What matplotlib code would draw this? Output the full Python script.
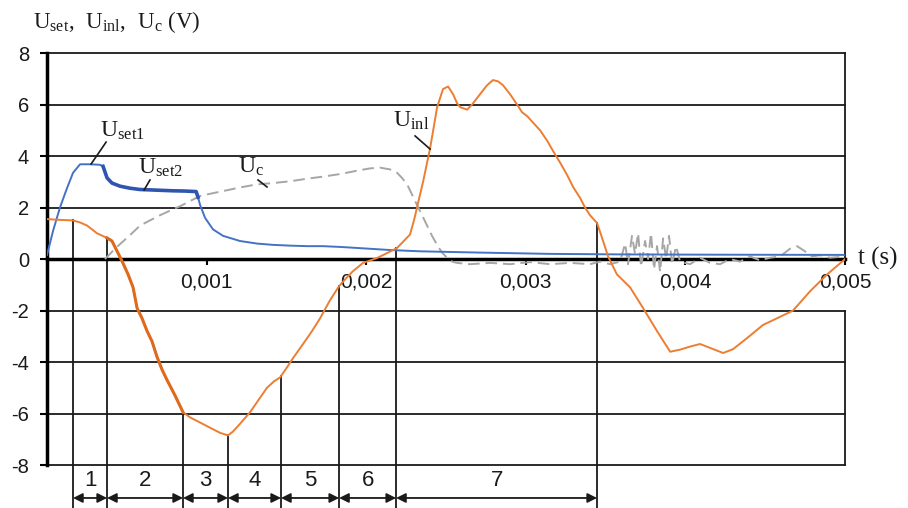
import matplotlib.pyplot as plt
import numpy as np

plt.rcParams['mathtext.fontset'] = 'custom'
plt.rcParams['mathtext.rm'] = 'Liberation Serif'
plt.rcParams['font.family'] = 'Liberation Sans'
plt.rcParams['axes.unicode_minus'] = False

# time values in ms, voltages in V
t_set = [0.000, 0.038, 0.081, 0.125, 0.163, 0.207, 0.269, 0.332, 0.351, 0.376,
         0.407, 0.457, 0.520, 0.583, 0.708, 0.789, 0.865, 0.934, 0.946, 0.959,
         0.990, 1.040, 1.103, 1.209, 1.316, 1.416, 1.523, 1.629, 1.729, 1.836,
         1.942, 2.149, 2.337, 2.713, 3.152, 3.590, 4.091, 5.000]
u_set = [0.16, 1.1, 2.0, 2.75, 3.35, 3.68, 3.68, 3.66, 3.6, 3.15,
         2.95, 2.83, 2.75, 2.7, 2.67, 2.65, 2.64, 2.62, 2.4, 2.1,
         1.6, 1.15, 0.9, 0.7, 0.6, 0.55, 0.52, 0.5, 0.5, 0.47,
         0.43, 0.35, 0.3, 0.25, 0.2, 0.18, 0.17, 0.16]

t_inl = [0.000, 0.081, 0.163, 0.207, 0.251, 0.313, 0.376, 0.407, 0.439, 0.470,
         0.508, 0.539, 0.564, 0.595, 0.627, 0.658, 0.689, 0.721, 0.752, 0.802,
         0.852, 0.896, 0.959, 1.021, 1.084, 1.134, 1.165, 1.209, 1.272, 1.322,
         1.378, 1.422, 1.460, 1.504, 1.541, 1.604, 1.660, 1.711, 1.773, 1.830,
         1.873, 1.917, 1.980, 2.068, 2.130, 2.193, 2.243, 2.274, 2.299, 2.318,
         2.356, 2.400, 2.425, 2.444, 2.481, 2.513, 2.544, 2.569, 2.588, 2.632,
         2.663, 2.694, 2.757, 2.794, 2.826, 2.857, 2.901, 2.945, 2.976, 3.008,
         3.045, 3.089, 3.133, 3.170, 3.214, 3.258, 3.296, 3.340, 3.371, 3.402,
         3.446, 3.484, 3.515, 3.571, 3.653, 3.734, 3.822, 3.904, 3.966, 4.029,
         4.091, 4.154, 4.236, 4.298, 4.386, 4.486, 4.574, 4.674, 4.781, 4.887,
         5.000]
u_inl = [1.55, 1.52, 1.5, 1.42, 1.3, 1.0, 0.82, 0.7, 0.3, -0.08,
         -0.6, -1.1, -1.9, -2.3, -2.8, -3.2, -3.8, -4.3, -4.7, -5.3,
         -5.95, -6.15, -6.35, -6.55, -6.75, -6.85, -6.7, -6.4, -5.95, -5.5,
         -5.0, -4.75, -4.6, -4.2, -3.85, -3.3, -2.8, -2.3, -1.6, -1.05,
         -0.75, -0.47, -0.15, 0.04, 0.23, 0.43, 0.75, 0.95, 1.5, 2.0,
         3.0, 4.3, 5.2, 5.9, 6.6, 6.7, 6.4, 6.05, 5.9, 5.8,
         6.0, 6.25, 6.75, 6.95, 6.9, 6.75, 6.4, 6.0, 5.7, 5.55,
         5.3, 5.0, 4.6, 4.2, 3.75, 3.27, 2.8, 2.37, 2.0, 1.7,
         1.4, 0.7, 0.1, -0.6, -1.1, -1.9, -2.8, -3.6, -3.52, -3.4,
         -3.3, -3.45, -3.65, -3.5, -3.07, -2.56, -2.3, -2.0, -1.25, -0.6,
         0.0]

t_c = [0.363, 0.426, 0.470, 0.520, 0.583, 0.645, 0.708, 0.771, 0.833, 0.896,
       0.959, 1.034, 1.103, 1.209, 1.316, 1.416, 1.523, 1.629, 1.729, 1.836,
       1.942, 2.024, 2.086, 2.149, 2.193, 2.224, 2.256, 2.287, 2.318, 2.350,
       2.381, 2.412, 2.444, 2.475, 2.506, 2.538, 2.569, 2.650, 2.776, 2.901,
       3.026, 3.152, 3.277, 3.402, 3.465, 3.528, 3.590, 3.622, 3.640, 3.665,
       3.684, 3.703, 3.722, 3.747, 3.766, 3.784, 3.803, 3.822, 3.841, 3.860,
       3.879, 3.897, 3.916, 3.941, 3.966, 4.029, 4.091, 4.154, 4.217, 4.279,
       4.342, 4.405, 4.467, 4.530, 4.593, 4.655, 4.699, 4.749, 4.793, 4.843,
       4.906, 5.000]
u_c = [0.0, 0.4, 0.65, 0.93, 1.3, 1.5, 1.7, 1.88, 2.05, 2.25,
       2.45, 2.55, 2.64, 2.78, 2.9, 2.95, 3.02, 3.12, 3.2, 3.3,
       3.43, 3.52, 3.55, 3.48, 3.35, 3.15, 2.9, 2.5, 2.1, 1.7,
       1.3, 0.9, 0.55, 0.25, 0.05, -0.1, -0.15, -0.2, -0.15, -0.2,
       -0.12, -0.2, -0.15, -0.2, -0.1, -0.2, -0.1, 0.6, -0.2, 0.9,
       0.2, 1.0, -0.3, 0.7, 0.0, 1.0, -0.4, 0.5, -0.5, 0.8,
       0.0, 0.9, -0.2, 0.5, -0.1, -0.2, 0.05, -0.15, -0.2, 0.0,
       -0.1, 0.1, -0.05, 0.05, 0.1, 0.4, 0.5, 0.3, 0.1, 0.15,
       0.05, 0.1]

# stage boundaries (ms) and stage numbers
t_bound = [0.163, 0.376, 0.852, 1.134, 1.466, 1.830, 2.187, 3.446]
stages = ['1', '2', '3', '4', '5', '6', '7']

x_ticks = [0.001, 0.002, 0.003, 0.004, 0.005]
x_labels = ['0,001', '0,002', '0,003', '0,004', '0,005']
y_ticks = [-8, -6, -4, -2, 0, 2, 4, 6, 8]

t_set = np.array(t_set) * 1e-3
t_inl = np.array(t_inl) * 1e-3
t_c = np.array(t_c) * 1e-3
t_bound = np.array(t_bound) * 1e-3
u_set = np.array(u_set)
u_inl = np.array(u_inl)

blue = '#4472c4'
orange = '#ed7d31'
gray = '#a6a6a6'
dark = '#1a1a1a'

fig = plt.figure(figsize=(9.08, 5.08), dpi=100)
ax = fig.add_axes([0.0518, 0.0846, 0.8789, 0.8110])
ax.set_xlim(0, 0.005)
ax.set_ylim(-8, 8)

for y in y_ticks:
    if y != 0:
        ax.axhline(y, color=dark, lw=1.3, zorder=1, clip_on=False)

for s in ['top', 'right']:
    ax.spines[s].set_visible(False)
ax.spines['bottom'].set_position(('data', 0))
ax.spines['bottom'].set_linewidth(2.5)
ax.spines['left'].set_linewidth(2.5)
ax.plot([0.005, 0.005], [0, 8], color=dark, lw=1.3, clip_on=False)
ax.plot([0.005, 0.005], [-2, -8], color=dark, lw=1.3, clip_on=False)

ax.set_yticks(y_ticks)
ax.set_xticks(x_ticks)
ax.set_xticklabels(x_labels)
ax.tick_params(axis='y', direction='out', length=5, width=1.5, pad=8, labelsize=14.5,
               labelcolor=dark)
ax.tick_params(axis='x', direction='out', length=4, width=1.5, pad=6, labelsize=15,
               labelcolor=dark)

# curves
ax.plot(t_c, u_c, color=gray, lw=1.4, dashes=(6, 3), zorder=3)
ax.plot(t_set, u_set, color=blue, lw=1.4, zorder=4)
ax.plot(t_set[8:19], u_set[8:19], color='#2f55b0', lw=2.6, zorder=4)
ax.plot(t_inl, u_inl, color=orange, lw=1.4, zorder=5)
m = (t_inl >= t_bound[1]) & (t_inl <= t_bound[2])
ax.plot(t_inl[m], u_inl[m], color='#e06a1c', lw=2.2, zorder=5)

# stage boundaries and arrows
u_top = np.interp(t_bound, t_inl, u_inl)
for t, top in zip(t_bound, u_top):
    ax.plot([t, t], [top, -9.8], color=dark, lw=1.3, clip_on=False, zorder=2)
for i, lab in enumerate(stages):
    ax.annotate('', xy=(t_bound[i + 1], -9.28), xytext=(t_bound[i], -9.28),
                arrowprops=dict(arrowstyle='<|-|>', color=dark, lw=1.3,
                                mutation_scale=14, shrinkA=0, shrinkB=0, clip_on=False),
                annotation_clip=False)
    ax.text((t_bound[i] + t_bound[i + 1]) / 2, -8.62, lab, ha='center', va='center',
            fontsize=16, color=dark)

# curve labels with leader lines
labels = [(r'$\mathrm{U_{set1}}$', 0.47e-3, 4.97, (0.370e-3, 4.54), (0.276e-3, 3.69)),
          (r'$\mathrm{U_{set2}}$', 0.714e-3, 3.53, (0.645e-3, 3.07), (0.608e-3, 2.68)),
          (r'$\mathrm{U_{c}}$', 1.278e-3, 3.57, (1.322e-3, 3.07), (1.378e-3, 2.8)),
          (r'$\mathrm{U_{inl}}$', 2.281e-3, 5.36, (2.306e-3, 4.78), (2.4e-3, 4.27))]
for txt, x, y, p0, p1 in labels:
    ax.text(x, y, txt, ha='center', va='center', fontsize=17, color=dark, zorder=6)
    ax.plot([p0[0], p1[0]], [p0[1], p1[1]], color=dark, lw=1.2, zorder=6)

fig.text(33 / 908, 1 - 22 / 508, r'$\mathrm{U_{set},\ U_{inl},\ U_{c}}$ (V)',
         ha='left', va='center', fontsize=16.5, family='Liberation Serif', color=dark)
fig.text(858 / 908, 1 - 258 / 508, 't (s)', ha='left', va='center', fontsize=18,
         family='Liberation Serif', color=dark)

fig.savefig('out.png', dpi=100)
